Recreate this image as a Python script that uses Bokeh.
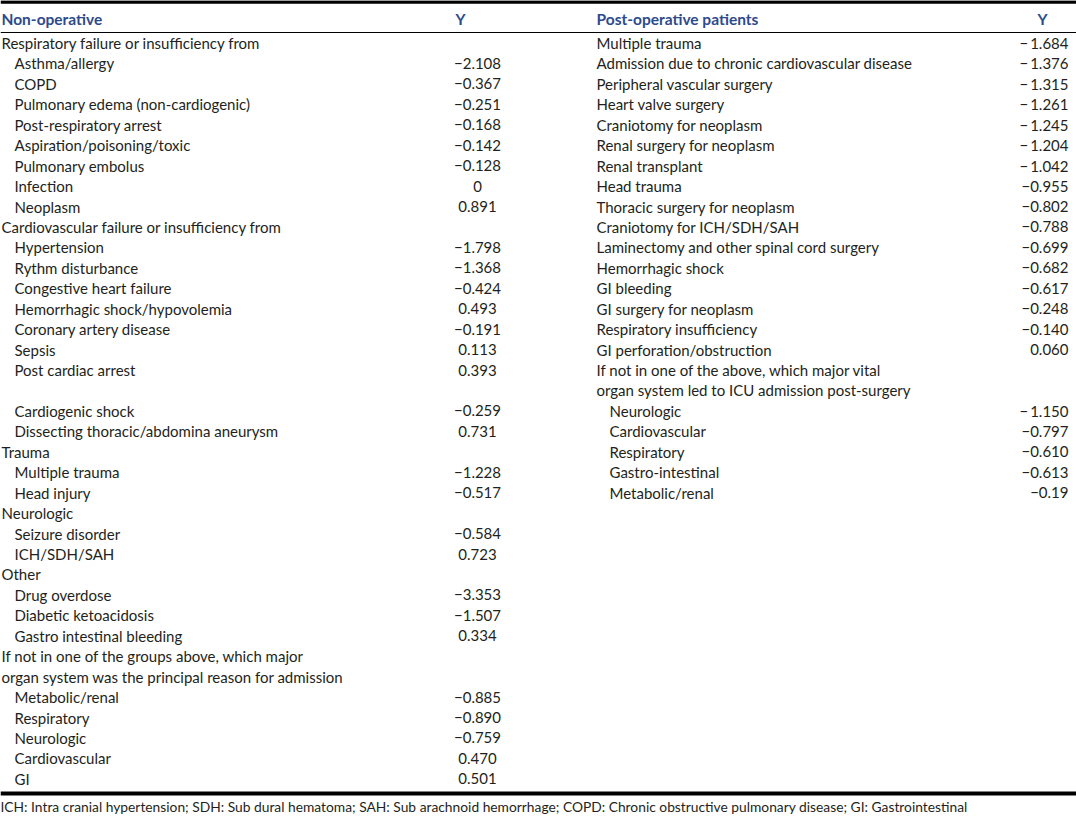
from bokeh.plotting import figure
from bokeh.models import Range1d, ColumnDataSource
from bokeh.core.properties import value
from bokeh.embed import file_html
from bokeh.resources import INLINE

# ---- table content ----
left_header = "Non-operative"
right_header = "Post-operative patients"
y_header = "Y"

left_labels = [
    "Respiratory failure or insufficiency from", "Asthma/allergy", "COPD",
    "Pulmonary edema (non-cardiogenic)", "Post-respiratory arrest",
    "Aspiration/poisoning/toxic", "Pulmonary embolus", "Infection", "Neoplasm",
    "Cardiovascular failure or insufficiency from", "Hypertension",
    "Rythm disturbance", "Congestive heart failure",
    "Hemorrhagic shock/hypovolemia", "Coronary artery disease", "Sepsis",
    "Post cardiac arrest", "", "Cardiogenic shock",
    "Dissecting thoracic/abdomina aneurysm", "Trauma", "Multiple trauma",
    "Head injury", "Neurologic", "Seizure disorder", "ICH/SDH/SAH", "Other",
    "Drug overdose", "Diabetic ketoacidosis", "Gastro intestinal bleeding",
    "If not in one of the groups above, which major",
    "organ system was the principal reason for admission",
    "Metabolic/renal", "Respiratory", "Neurologic", "Cardiovascular", "GI",
]
left_levels = [0, 1, 1, 1, 1, 1, 1, 1, 1, 0, 1, 1, 1, 1, 1, 1, 1, 1, 1, 1,
               0, 1, 1, 0, 1, 1, 0, 1, 1, 1, 0, 0, 1, 1, 1, 1, 1]
left_values = ["", "\u22122.108", "\u22120.367", "\u22120.251", "\u22120.168",
               "\u22120.142", "\u22120.128", "0", "0.891", "", "\u22121.798",
               "\u22121.368", "\u22120.424", "0.493", "\u22120.191", "0.113",
               "0.393", "", "\u22120.259", "0.731", "", "\u22121.228",
               "\u22120.517", "", "\u22120.584", "0.723", "", "\u22123.353",
               "\u22121.507", "0.334", "", "", "\u22120.885", "\u22120.890",
               "\u22120.759", "0.470", "0.501"]

right_labels = [
    "Multiple trauma", "Admission due to chronic cardiovascular disease",
    "Peripheral vascular surgery", "Heart valve surgery",
    "Craniotomy for neoplasm", "Renal surgery for neoplasm", "Renal transplant",
    "Head trauma", "Thoracic surgery for neoplasm", "Craniotomy for ICH/SDH/SAH",
    "Laminectomy and other spinal cord surgery", "Hemorrhagic shock",
    "GI bleeding", "GI surgery for neoplasm", "Respiratory insufficiency",
    "GI perforation/obstruction",
    "If not in one of the above, which major vital",
    "organ system led to ICU admission post-surgery",
    "Neurologic", "Cardiovascular", "Respiratory", "Gastro-intestinal",
    "Metabolic/renal",
]
right_levels = [0] * 18 + [1] * 5
right_values = ["\u2212\u20091.684", "\u2212\u20091.376", "\u2212\u20091.315",
                "\u2212\u20091.261", "\u2212\u20091.245", "\u2212\u20091.204",
                "\u2212\u20091.042", "\u22120.955", "\u22120.802", "\u22120.788",
                "\u22120.699", "\u22120.682", "\u22120.617", "\u22120.248",
                "\u22120.140", "0.060", "", "", "\u2212\u20091.150",
                "\u22120.797", "\u22120.610", "\u22120.613", "\u22120.19"]

footnote = ("ICH: Intra cranial hypertension; SDH: Sub dural hematoma; "
            "SAH: Sub arachnoid hemorrhage; COPD: Chronic obstructive "
            "pulmonary disease; GI: Gastrointestinal")

# ---- layout ----
ROW0, STEP = 42.5, 20.44
FONT = "Lato"
INK = "#231f20"
BLUE = "#2d4a8c"

p = figure(width=1076, height=820, output_backend="svg", toolbar_location=None,
           x_range=Range1d(0, 1076), y_range=Range1d(820, 0),
           min_border=0, outline_line_color=None)
p.axis.visible = False
p.grid.visible = False
p.background_fill_color = "white"

def rows(labels, levels, values, x0, indent):
    return ColumnDataSource(dict(
        x=[x0 + indent * lv for lv in levels],
        y=[ROW0 + i * STEP for i in range(len(labels))],
        label=labels, val=values))

ls = rows(left_labels, left_levels, left_values, 1, 13)
rs = rows(right_labels, right_levels, right_values, 596, 13)

body = dict(text_font=value(FONT), text_font_size="15px", text_color=INK,
            text_baseline="middle")
p.text(x="x", y="y", text="label", source=ls, text_align="left", **body)
p.text(x=477, y="y", text="val", source=ls, text_align="center", **body)
p.text(x="x", y="y", text="label", source=rs, text_align="left", **body)
p.text(x=1068, y="y", text="val", source=rs, text_align="right", **body)

head = dict(text_font=value(FONT), text_font_size="15.5px", text_color=BLUE,
            text_font_style="bold", text_baseline="middle")
p.text(x=[1, 596], y=[18, 18], text=[left_header, right_header],
       text_align="left", **head)
p.text(x=[460, 1042], y=[18, 18], text=[y_header, y_header],
       text_align="center", **head)

# rules
p.segment(x0=[0], y0=[1.5], x1=[1076], y1=[1.5], line_color="black", line_width=3.5)
p.segment(x0=[0], y0=[32], x1=[1076], y1=[32], line_color="black", line_width=1)
p.segment(x0=[0], y0=[793], x1=[1076], y1=[793], line_color="black", line_width=4)

p.text(x=[0], y=[806], text=[footnote], text_font=value(FONT),
       text_font_size="13.8px", text_color=INK, text_align="left",
       text_baseline="middle")

open("out.html", "w").write(file_html(p, INLINE))
